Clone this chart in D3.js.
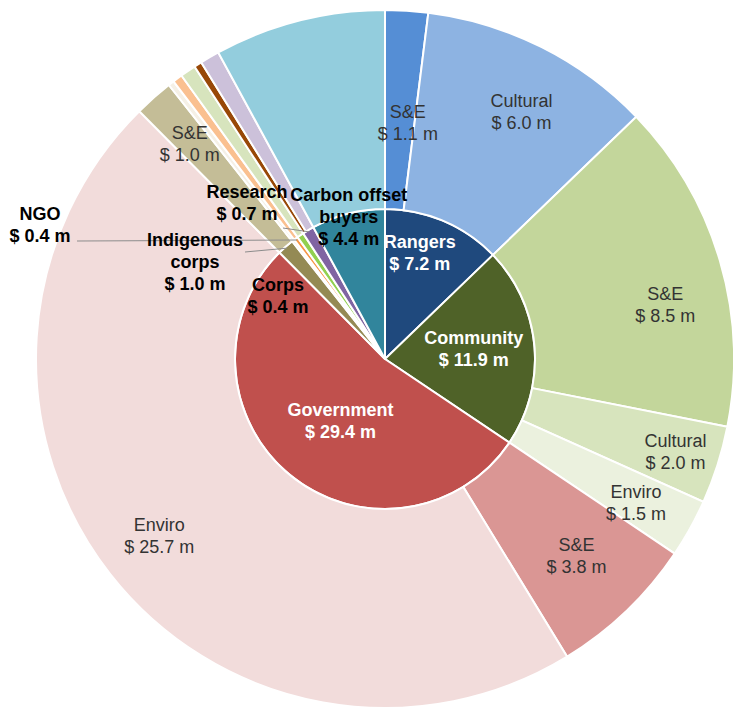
<!DOCTYPE html>
<meta charset="utf-8">

<!-- Load d3.js -->
<script src="https://d3js.org/d3.v7.min.js"></script>

<style>
  body { margin: 0; background: #fff; }
  text { font-family: "Liberation Sans", Arial, sans-serif; }
</style>

<!-- Create a div where the graph will take place -->
<div id="sunburst"></div>

<script>

  // funding sources (inner ring) and the totals printed on them
  var sources = ["Rangers", "Community", "Government", "Indigenous corps", "Other",
                 "NGO", "Corps", "Research", "Carbon offset buyers"];
  var sourceTotals = [7.2, 11.9, 29.4, 1.0, null, 0.4, 0.4, 0.7, 4.4];

  // what each source pays for (outer ring), "" = no label shown
  var useNames = [
    ["S&E", "Cultural"],
    ["S&E", "Cultural", "Enviro"],
    ["S&E", "Enviro"],
    ["S&E"],
    [""],
    [""],
    [""],
    ["", ""],
    [""]
  ];
  var useValues = [
    [1.1, 6.0],
    [8.5, 2.0, 1.5],
    [3.8, 25.7],
    [1.0],
    [0.15],
    [0.25],
    [0.4],
    [0.2, 0.5],
    [4.4]
  ];

  // colours
  var sourceColors = ["#1f497d", "#4f6228", "#c0504d", "#948a54", "#efece0",
                      "#f79646", "#92d050", "#8064a2", "#31859c"];
  var useColors = [
    ["#558ed5", "#8db3e2"],
    ["#c3d69b", "#d7e4bd", "#ebf1de"],
    ["#da9694", "#f2dcdb"],
    ["#c4bd97"],
    ["#f5f0e6"],
    ["#fac090"],
    ["#d7e4bd"],
    ["#984807", "#ccc1da"],
    ["#93cddd"]
  ];
  var whiteLabels = ["Rangers", "Community", "Government"];

  // set the dimensions of the graph
  var width = 733, height = 711,
      cx = 385, cy = 359,
      rInner = 150, rOuter = 349,
      lineH = 22;

  // label placement: inner labels sit on their slice at a given radius,
  // the thin slices get a free spot and a leader line
  var innerSpot = {
    "Rangers": {r: 112, dx: -9, dy: -3},
    "Community": {r: 89, dx: 0, dy: -2},
    "Government": {r: 76, dx: 4, dy: 3},
    "Carbon offset buyers": {r: 147, dx: 0, dy: 0}
  };
  var freeSpot = {
    "Corps": {x: -107, y: -63},
    "Indigenous corps": {x: -190, y: -97, lx: -140, ly: -107},
    "NGO": {x: -345, y: -134, lx: -308, ly: -118},
    "Research": {x: -138, y: -156, lx: -102, ly: -131}
  };
  var outerR = 287;
  var outerNudge = {
    "Rangers/S&E": [5, 50],
    "Rangers/Cultural": [8, 10],
    "Community/S&E": [5, 27],
    "Community/Cultural": [17, 6],
    "Community/Enviro": [0, 5],
    "Government/S&E": [-7, -10],
    "Indigenous corps/S&E": [-5, 0]
  };

  // build the hierarchy
  var tree = {name: "all", children: sources.map(function(s, i) {
    return {
      name: s, total: sourceTotals[i], color: sourceColors[i],
      children: useNames[i].map(function(u, j) {
        return {name: u, value: useValues[i][j], color: useColors[i][j]};
      })
    };
  })};

  var root = d3.hierarchy(tree).sum(function(d) { return d.children ? 0 : d.value; });
  d3.partition().size([2 * Math.PI, 3])(root);

  var radius = d3.scaleLinear().domain([1, 2, 3]).range([0, rInner, rOuter]);

  var arc = d3.arc()
    .startAngle(function(d) { return d.x0; })
    .endAngle(function(d) { return d.x1; })
    .innerRadius(function(d) { return radius(d.y0); })
    .outerRadius(function(d) { return radius(d.y1); });

  function polar(a, r) { return [r * Math.sin(a), -r * Math.cos(a)]; }
  function money(v) { return "$ " + d3.format(".1f")(v) + " m"; }
  function splitName(n) {
    var k = n.lastIndexOf(" ");
    return k < 0 ? [n] : [n.slice(0, k), n.slice(k + 1)];
  }

  // append the svg object to the body of the page
  var svg = d3.select("#sunburst")
    .append("svg")
      .attr("width", width)
      .attr("height", height)
    .append("g")
      .attr("transform", "translate(" + cx + "," + cy + ")");

  // slices
  svg.append("g")
    .selectAll("path")
    .data(root.descendants().filter(function(d) { return d.depth > 0; }))
    .enter()
    .append("path")
      .attr("d", arc)
      .style("fill", function(d) { return d.data.color; })
      .style("stroke", "#fff")
      .style("stroke-width", 2);

  // leader lines for the thin inner slices
  var inner = root.children;
  inner.forEach(function(d) {
    var f = freeSpot[d.data.name];
    if (!f || f.lx === undefined) return;
    var p = polar((d.x0 + d.x1) / 2, rInner - 2);
    svg.append("line")
      .attr("x1", f.lx).attr("y1", f.ly)
      .attr("x2", p[0]).attr("y2", p[1])
      .style("stroke", "#8c8c8c")
      .style("stroke-width", 1);
  });

  function drawLabel(x, y, lines, color, weight) {
    var t = svg.append("text")
      .attr("text-anchor", "middle")
      .style("font-size", "18px")
      .style("font-weight", weight)
      .style("fill", color);
    lines.forEach(function(s, i) {
      t.append("tspan")
        .attr("x", x)
        .attr("y", y + (i - (lines.length - 1) / 2) * lineH)
        .attr("dominant-baseline", "central")
        .text(s);
    });
  }

  // outer labels
  root.leaves().forEach(function(d) {
    if (!d.data.name) return;
    var key = d.parent.data.name + "/" + d.data.name;
    var n = outerNudge[key] || [0, 0];
    var p = polar((d.x0 + d.x1) / 2, outerR);
    drawLabel(p[0] + n[0], p[1] + n[1], [d.data.name, money(d.data.value)], "#333", "normal");
  });

  // inner labels
  inner.forEach(function(d) {
    if (d.data.total === null) return;
    var name = d.data.name, x, y;
    if (innerSpot[name]) {
      var s = innerSpot[name];
      var p = polar((d.x0 + d.x1) / 2, s.r);
      x = p[0] + s.dx; y = p[1] + s.dy;
    } else {
      x = freeSpot[name].x; y = freeSpot[name].y;
    }
    var color = whiteLabels.indexOf(name) >= 0 ? "#fff" : "#000";
    drawLabel(x, y, splitName(name).concat([money(d.data.total)]), color, "bold");
  });

</script>
